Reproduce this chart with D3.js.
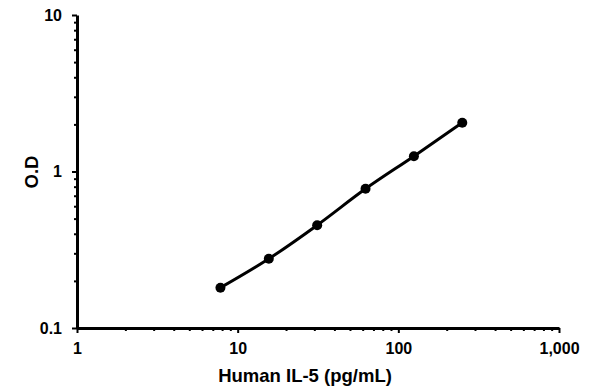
<!DOCTYPE html>
<html><head><meta charset="utf-8">
<script src="https://cdn.jsdelivr.net/npm/d3@7"></script>
<style>body{margin:0;background:#fff}</style>
</head><body>
<svg id="c" width="595" height="391"></svg>
<script>
const concentrations = [7.8125, 15.625, 31.25, 62.5, 125, 250];
const odValues = [0.181, 0.277, 0.454, 0.775, 1.252, 2.05];
const xTickValues = [1, 10, 100, 1000];
const xTickLabels = ["1", "10", "100", "1,000"];
const yTickValues = [0.1, 1, 10];
const yTickLabels = ["0.1", "1", "10"];
const xTitle = "Human IL-5 (pg/mL)";
const yTitle = "O.D";

const svg = d3.select("#c");
const x = d3.scaleLog().domain([1, 1000]).range([77, 559]);
const y = d3.scaleLog().domain([0.1, 10]).range([328, 15]);
const font = "'Liberation Sans', Arial, sans-serif";

function minorTicks(lo, hi) {
  const out = [];
  for (let d = lo; d < hi; d *= 10) for (let k = 2; k <= 9; k++) out.push(d * k);
  return out;
}

// x axis
const gx = svg.append("g").attr("transform", "translate(0,328)");
gx.call(d3.axisBottom(x).tickValues(xTickValues).tickFormat((d, i) => xTickLabels[i]).tickSize(5).tickSizeOuter(0));
gx.append("g").call(d3.axisBottom(x).tickValues(minorTicks(1, 1000)).tickFormat("").tickSize(3).tickSizeOuter(0))
  .select(".domain").remove();
// y axis
const gy = svg.append("g").attr("transform", "translate(77,0)");
gy.call(d3.axisLeft(y).tickValues(yTickValues).tickFormat((d, i) => yTickLabels[i]).tickSize(5).tickSizeOuter(0));
gy.append("g").call(d3.axisLeft(y).tickValues(minorTicks(0.1, 10)).tickFormat("").tickSize(3).tickSizeOuter(0))
  .select(".domain").remove();

svg.selectAll(".domain").attr("stroke", "#000").attr("stroke-width", 3);
svg.selectAll(".tick line").attr("stroke", "#000").attr("stroke-width", 2);
svg.selectAll(".tick text").attr("font-family", font).attr("font-weight", "bold").attr("font-size", 16).attr("fill", "#000");
gx.selectAll(".tick text").attr("y", 15);
gy.selectAll(".tick text").attr("x", -15);

// line
const pts = concentrations.map((c, i) => [c, odValues[i]]);
svg.append("path").datum(pts)
  .attr("fill", "none").attr("stroke", "#000").attr("stroke-width", 3)
  .attr("d", d3.line().x(d => x(d[0])).y(d => y(d[1])).curve(d3.curveMonotoneX));
svg.selectAll("circle.pt").data(pts).enter().append("circle")
  .attr("cx", d => x(d[0])).attr("cy", d => y(d[1])).attr("r", 5).attr("fill", "#000");

// titles
svg.append("text").attr("x", 305).attr("y", 382).attr("text-anchor", "middle")
  .attr("font-family", font).attr("font-weight", "bold").attr("font-size", 18.5).text(xTitle);
svg.append("text").attr("transform", "translate(38,172) rotate(-90)").attr("text-anchor", "middle")
  .attr("font-family", font).attr("font-weight", "bold").attr("font-size", 18.5).text(yTitle);
</script>
</body></html>
